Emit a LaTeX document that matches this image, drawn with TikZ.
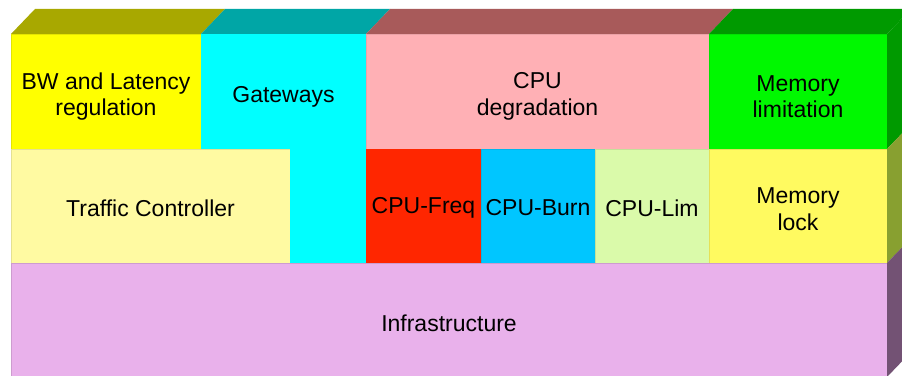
\documentclass[tikz,border=0pt]{standalone}
\usepackage{fontspec}
\setmainfont{Liberation Sans}
\usepackage{tikz}

\definecolor{bwyellow}{HTML}{FFFF00}
\definecolor{bwtop}{HTML}{A8A800}
\definecolor{gwcyan}{HTML}{00FFFF}
\definecolor{gwtop}{HTML}{00A6A6}
\definecolor{cpupink}{HTML}{FFB0B5}
\definecolor{cputop}{HTML}{A85A5A}
\definecolor{memgreen}{HTML}{00F800}
\definecolor{memtop}{HTML}{009A00}
\definecolor{tcyellow}{HTML}{FFFAA2}
\definecolor{freqred}{HTML}{FF2600}
\definecolor{burnblue}{HTML}{00C6FF}
\definecolor{limgreen}{HTML}{DAFAAA}
\definecolor{lockyellow}{HTML}{FFFA60}
\definecolor{lockside}{HTML}{88A030}
\definecolor{infpink}{HTML}{E9B1EB}
\definecolor{infside}{HTML}{735274}

\tikzset{
  block/.style={anchor=south west, inner sep=0pt, outer sep=0pt, line width=0.8pt},
  boxtext/.style={inner sep=0pt, align=center, font=\fontsize{23}{26.5}\selectfont},
}

\begin{document}
\begin{tikzpicture}[x=1pt, y=1pt]
	\useasboundingbox (0,0) rectangle (902,375);
	\clip (0,0) rectangle (902,375);

	% front faces, top row
	\node[block, fill=bwyellow, draw=bwyellow!90!black, minimum width=190pt, minimum height=115pt] (bw) at (11,226) {};
	\node[block, fill=gwcyan, draw=gwcyan, minimum width=165pt, minimum height=115pt] (gw) at (201,226) {};
	\node[block, fill=cpupink, draw=cpupink!92!black, minimum width=343pt, minimum height=115pt] (cpu) at (366,226) {};
	\node[block, fill=memgreen, draw=memgreen!92!black, minimum width=178pt, minimum height=115pt] (mem) at (709,226) {};

	% front faces, middle row
	\node[block, fill=tcyellow, draw=tcyellow!90!black, minimum width=279pt, minimum height=114pt] (tc) at (11,112) {};
	\node[block, fill=gwcyan, draw=gwcyan, minimum width=76pt, minimum height=114pt] (gwlow) at (290,112) {};
	\node[block, fill=freqred, draw=freqred, minimum width=115pt, minimum height=114pt] (freq) at (366,112) {};
	\node[block, fill=burnblue, draw=burnblue!92!black, minimum width=114pt, minimum height=114pt] (burn) at (481,112) {};
	\node[block, fill=limgreen, draw=limgreen!90!black, minimum width=114pt, minimum height=114pt] (lim) at (595,112) {};
	\node[block, fill=lockyellow, draw=lockyellow!90!black, minimum width=178pt, minimum height=114pt] (lock) at (709,112) {};

	% front face, bottom row
	\node[block, fill=infpink, draw=infpink!88!black, minimum width=876pt, minimum height=114pt] (infra) at (11,-2) {};

	% top faces
	\fill[bwtop] (bw.north west) -- ++(24,25) -- ([shift={(24,25)}]bw.north east) -- (bw.north east) -- cycle;
	\fill[gwtop] (gw.north west) -- ++(24,25) -- ([shift={(24,25)}]gw.north east) -- (gw.north east) -- cycle;
	\fill[cputop] (cpu.north west) -- ++(24,25) -- ([shift={(24,25)}]cpu.north east) -- (cpu.north east) -- cycle;
	\fill[memtop] (mem.north west) -- ++(24,25) -- ([shift={(24,25)}]mem.north east) -- (mem.north east) -- cycle;

	% right side faces
	\fill[memtop] (mem.south east) -- (mem.north east) -- ++(24,25) -- ([shift={(24,25)}]mem.south east) -- cycle;
	\fill[lockside] (lock.south east) -- (lock.north east) -- ++(24,25) -- ([shift={(24,25)}]lock.south east) -- cycle;
	\fill[infside] (infra.south east) -- (infra.north east) -- ++(24,25) -- ([shift={(24,25)}]infra.south east) -- cycle;

	% labels
	\node[boxtext] (bwtext) at ([yshift=-5pt]bw.center) {BW and Latency\\regulation};
	\node[boxtext] (gwtext) at ([yshift=-5pt]gw.center) {Gateways};
	\node[boxtext] (cputext) at ([yshift=-5pt]cpu.center) {CPU\\degradation};
	\node[boxtext] (memtext) at ([yshift=-5pt]mem.center) {Memory\\limitation};
	\node[boxtext] (tctext) at ([yshift=-2pt]tc.center) {Traffic Controller};
	\node[boxtext] (freqtext) at ([yshift=-2pt]freq.center) {CPU-Freq};
	\node[boxtext] (burntext) at ([yshift=-2pt]burn.center) {CPU-Burn};
	\node[boxtext] (limtext) at ([yshift=-2pt]lim.center) {CPU-Lim};
	\node[boxtext] (locktext) at ([yshift=-3pt]lock.center) {Memory\\lock};
	\node[boxtext] (infratext) at ([yshift=-3pt]infra.center) {Infrastructure};
\end{tikzpicture}
\end{document}
